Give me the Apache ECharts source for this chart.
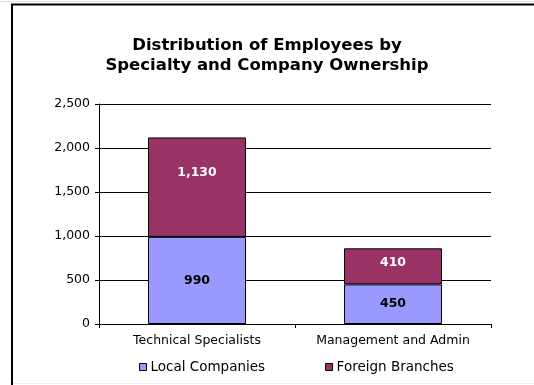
<!DOCTYPE html>
<html>
<head>
<meta charset="utf-8">
<script src="https://cdn.jsdelivr.net/npm/echarts@6/dist/echarts.min.js"></script>
<style>
  html, body { margin: 0; padding: 0; background: #fff; }
  #chart { width: 534px; height: 385px; }
</style>
</head>
<body>
<div id="chart"></div>
<script>
// Employee counts by specialty, split by company ownership
const categories = ['Technical Specialists', 'Management and Admin'];
const localCompanies = [990, 450];
const foreignBranches = [1130, 410];
const yTicks = [0, 500, 1000, 1500, 2000, 2500];

const fontFamily = '"DejaVu Sans", Verdana, sans-serif';
const fmt = v => v.toLocaleString('en-US');

const chart = echarts.init(document.getElementById('chart'), null, { renderer: 'canvas' });

chart.setOption({
  animation: false,
  backgroundColor: '#fff',
  title: {
    text: 'Distribution of Employees by\nSpecialty and Company Ownership',
    left: 'center',
    top: 31,
    textStyle: {
      fontFamily,
      fontWeight: 'bold',
      fontSize: 16.5,
      lineHeight: 20,
      color: '#000'
    }
  },
  legend: {
    top: 355,
    left: 134,
    itemWidth: 7,
    itemHeight: 7,
    itemGap: 60,
    icon: 'rect',
    textStyle: { fontFamily, fontSize: 13.5, color: '#000', padding: [0, 0, 0, -1] },
    data: [
      { name: 'Local Companies', itemStyle: { borderColor: '#000', borderWidth: 1 } },
      { name: 'Foreign Branches', itemStyle: { borderColor: '#000', borderWidth: 1 } }
    ]
  },
  grid: { left: 99, right: 43, top: 104, bottom: 61, containLabel: false },
  xAxis: {
    type: 'category',
    data: categories,
    axisLine: { lineStyle: { color: '#000', width: 1 } },
    axisTick: { show: true, length: 4, lineStyle: { color: '#000' } },
    axisLabel: { fontFamily, fontSize: 12.5, color: '#000', margin: 10, interval: 0 }
  },
  yAxis: {
    type: 'value',
    min: yTicks[0],
    max: yTicks[yTicks.length - 1],
    interval: yTicks[1] - yTicks[0],
    axisLine: { show: true, lineStyle: { color: '#000', width: 1 } },
    axisTick: { show: true, length: 4, lineStyle: { color: '#000' } },
    splitLine: { show: true, lineStyle: { color: '#000', width: 1 } },
    axisLabel: { fontFamily, fontSize: 12.5, color: '#000', margin: 9, formatter: v => fmt(v) }
  },
  series: [
    {
      name: 'Local Companies',
      type: 'bar',
      stack: 'total',
      barWidth: '50%',
      data: localCompanies,
      itemStyle: { color: '#9999FF', borderColor: '#000', borderWidth: 1 },
      label: {
        show: true,
        position: 'inside',
        fontFamily,
        fontSize: 12.5,
        fontWeight: 'bold',
        color: '#000',
        formatter: p => fmt(p.value)
      }
    },
    {
      name: 'Foreign Branches',
      type: 'bar',
      stack: 'total',
      barWidth: '50%',
      data: foreignBranches.map((v, i) => ({
        value: v,
        label: { offset: [0, i === 0 ? -14 : -4] }
      })),
      itemStyle: { color: '#993366', borderColor: '#000', borderWidth: 1 },
      label: {
        show: true,
        position: 'inside',
        fontFamily,
        fontSize: 12.5,
        fontWeight: 'bold',
        color: '#fff',
        formatter: p => fmt(p.value)
      }
    }
  ],
  graphic: [
    // outer frame: top and left edges
    { type: 'line', shape: { x1: 11, y1: 4.5, x2: 534, y2: 4.5 }, style: { stroke: '#000', lineWidth: 2 } },
    { type: 'line', shape: { x1: 12, y1: 4, x2: 12, y2: 385 }, style: { stroke: '#000', lineWidth: 2 } },
    { type: 'line', shape: { x1: 0, y1: 1.5, x2: 534, y2: 1.5 }, style: { stroke: '#ddd', lineWidth: 1 } },
    { type: 'line', shape: { x1: 13, y1: 383.5, x2: 534, y2: 383.5 }, style: { stroke: '#eee', lineWidth: 1 } }
  ]
});
</script>
</body>
</html>
